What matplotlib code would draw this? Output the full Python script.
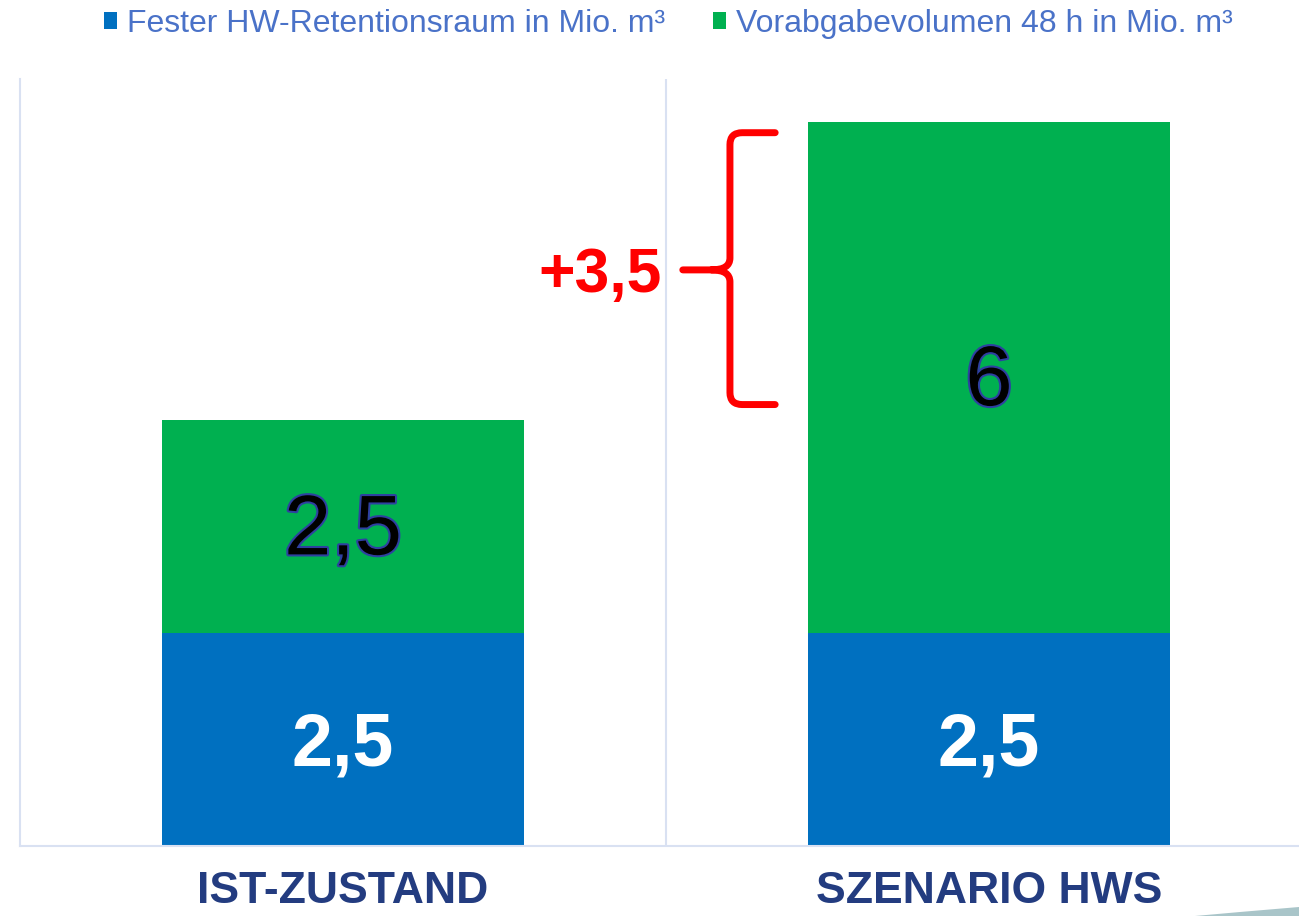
import matplotlib
matplotlib.use("Agg")
import matplotlib.pyplot as plt
import matplotlib.patheffects as pe
from matplotlib.patches import Patch, Polygon, PathPatch
from matplotlib.path import Path

plt.rcParams['font.family'] = ['Liberation Sans', 'DejaVu Sans']

categories = ["IST-ZUSTAND", "SZENARIO HWS"]
fest = [2.5, 2.5]
vorab = [2.5, 6.0]
fest_labels = ["2,5", "2,5"]
vorab_labels = ["2,5", "6"]
series_names = ["Fester HW-Retentionsraum in Mio. m³", "Vorabgabevolumen 48 h in Mio. m³"]
delta_label = "+3,5"

blue = "#0070C0"
green = "#00B050"
grid_col = "#D9E1F2"
cat_col = "#233C80"
legend_col = "#4A72C8"

fig = plt.figure(figsize=(12.99, 9.16), dpi=100)
ax = fig.add_axes([20/1299, 70/916, 1292/1299, 767/916])

x = list(range(len(categories)))
ax.bar(x, fest, width=0.56, color=blue)
ax.bar(x, vorab, width=0.56, bottom=fest, color=green)

for i in x:
    ax.text(i, fest[i] / 2 - 0.08, fest_labels[i], ha="center", va="center",
            fontsize=53, fontweight="bold", color="white")
    ax.text(i, fest[i] + vorab[i] / 2 - 0.07, vorab_labels[i], ha="center", va="center",
            fontsize=61, color="black",
            path_effects=[pe.withStroke(linewidth=3, foreground="#2E40A0")])

ax.set_xlim(-0.5, 1.5)
ax.set_ylim(0, 9)
ax.set_yticks([])
ax.set_xticks(x)
ax.set_xticklabels(categories, fontsize=32, fontweight="bold", color=cat_col)
ax.tick_params(axis="x", length=0, pad=18)
for s in ["top", "right"]:
    ax.spines[s].set_visible(False)
for s in ["left", "bottom"]:
    ax.spines[s].set_color(grid_col)
    ax.spines[s].set_linewidth(1.5)
ax.axvline(0.5, color=grid_col, lw=1.5)

# curly brace for the difference
xv, xe, xt = 0.599, 0.669, 0.526
yt, ym, yb = 8.37, 6.76, 5.18
rx, ry = 0.019, 0.14
verts = [(xe, yt), (xv + rx, yt), (xv, yt), (xv, yt - ry),
         (xv, ym + ry), (xv, ym), (xv - 1.5 * rx, ym), (xt, ym),
         (xv - 1.5 * rx, ym), (xv, ym), (xv, ym - ry),
         (xv, yb + ry), (xv, yb), (xv + rx, yb), (xe, yb)]
codes = [Path.MOVETO, Path.LINETO, Path.CURVE3, Path.CURVE3,
         Path.LINETO, Path.CURVE3, Path.CURVE3, Path.LINETO,
         Path.MOVETO, Path.CURVE3, Path.CURVE3,
         Path.LINETO, Path.CURVE3, Path.CURVE3, Path.LINETO]
ax.add_patch(PathPatch(Path(verts, codes), fill=False, edgecolor="#FF0000",
                       lw=5, capstyle="round", joinstyle="round", clip_on=False))
ax.text(0.494, 6.70, delta_label, ha="right", va="center",
        fontsize=45, fontweight="bold", color="#FF0000")

handles = [Patch(facecolor=blue), Patch(facecolor=green)]
fig.legend(handles, series_names, loc="center", bbox_to_anchor=(668/1299, 1 - 24/916),
           ncol=2, frameon=False, fontsize=23, labelcolor=legend_col,
           handlelength=0.42, handleheight=0.42, handletextpad=0.3,
           columnspacing=1.5, borderpad=0)

# decorative swoosh at the bottom right corner
sw = [(1195, 916), (1240, 912), (1299, 907), (1299, 916)]
fig.add_artist(Polygon([(px / 1299, 1 - py / 916) for px, py in sw],
                       closed=True, facecolor="#A9C5C9", edgecolor="none",
                       transform=fig.transFigure))

fig.savefig("out.png", dpi=100)
